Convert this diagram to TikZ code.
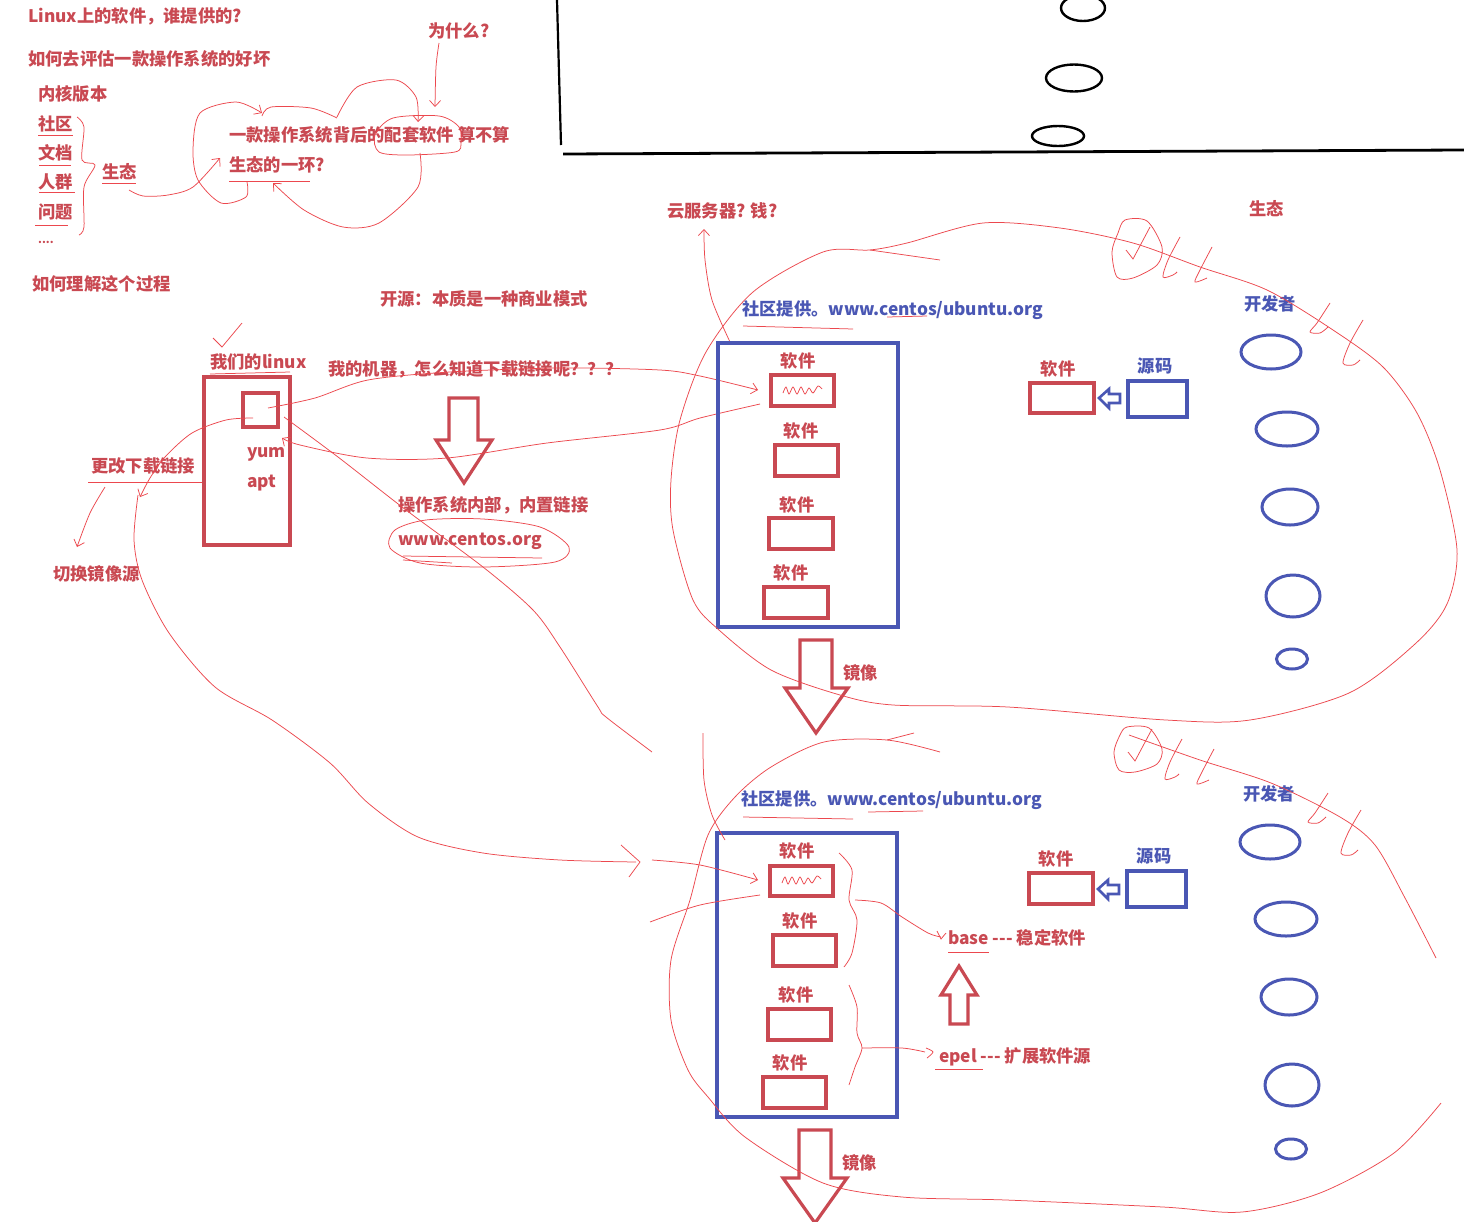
\documentclass[tikz,border=0pt]{standalone}
\usepackage{fontspec}
\setmainfont{Noto Sans CJK SC}[Ligatures=TeXOff]
\usetikzlibrary{arrows.meta,shapes.geometric}
\definecolor{rd}{RGB}{201,73,82}
\definecolor{bl}{RGB}{74,87,180}
\definecolor{ln}{RGB}{236,72,78}
\begin{document}
\begin{tikzpicture}[x=1pt,y=-1pt,
 txt/.style={font=\bfseries\fontsize{17.3}{20}\selectfont, text=rd, anchor=west, inner sep=0pt},
 btxt/.style={txt, text=bl},
 lbl/.style={font=\bfseries\fontsize{17.3}{20}\selectfont, text=rd, inner sep=0pt},
 rbox/.style={draw=rd, line width=3.4pt, inner sep=0pt},
 bbox/.style={draw=bl, line width=3.2pt, inner sep=0pt},
 dev/.style={draw=bl, line width=3pt, ellipse, inner sep=0pt},
 blk/.style={draw=black, line width=2.4pt, ellipse, inner sep=0pt},
 th/.style={draw=ln, line width=0.75pt},
 tip/.style={-{Straight Barb[length=6pt,width=11pt]}},
 hollow/.style={draw=rd, line width=3.2pt, line join=miter},
]
\useasboundingbox[fill=white] (0,0) rectangle (1464,1221);

% ---------- black top-right frame ----------
\coordinate (v1) at (557,0); \coordinate (v2) at (561,145);
\coordinate (h1) at (563,154); \coordinate (h2) at (1464,150);
\draw[black, line width=2.2pt] (v1) -- (v2);
\draw[black, line width=2.8pt] (h1) -- (h2);
\node[blk, minimum width=44pt, minimum height=26pt] (k1) at (1083,8) {};
\node[blk, minimum width=56pt, minimum height=27pt] (k2) at (1074,78) {};
\node[blk, minimum width=52pt, minimum height=20pt] (k3) at (1058,136) {};

% ---------- top-left texts ----------
\node[txt] (t1) at (28,16) {Linux上的软件，谁提供的?};
\node[txt] (t2) at (428,31) {为什么?};
\node[txt] (t3) at (28,59) {如何去评估一款操作系统的好坏};
\node[txt] (t4) at (38,94) {内核版本};
\node[txt] (t5) at (38,124) {社区};
\node[txt] (t6) at (38,153) {文档};
\node[txt] (t7) at (38,182) {人群};
\node[txt] (t8) at (38,212) {问题};
\node[txt, font=\bfseries\fontsize{11}{12}\selectfont] (t9) at (38,242) {....};
\node[txt] (eco) at (102,172) {生态};
\node[txt] (q1) at (229,135) {一款操作系统背后的配套软件 算不算};
\node[txt] (q2) at (229,165) {生态的一环?};
\node[txt] (t10) at (32,284) {如何理解这个过程};
\node[txt] (t11) at (380,299) {开源：本质是一种商业模式};

% underlines and brace
\draw[th] (38,135) -- (73,135);
\draw[th] (39,165) -- (71,165);
\draw[th] (39,192) -- (75,192);
\draw[th] (35,225) -- (68,225);
\draw[th] (102,183) -- (136,183);
\draw[th] (229,181) -- (310,181);
\draw[th] plot[smooth] coordinates {(77,117) (84,127) (82,160) (95,165) (84,187) (84,227) (79,235)};
\draw[th,tip] plot[smooth] coordinates {(129,190) (143,196) (168,195) (193,187) (220,158)};
% loops around the question
\draw[th,tip] plot[smooth] coordinates {(247,182) (246,197) (221,203) (198,180) (193,150) (200,113) (236,102) (262,113)};
\draw[th,tip] plot[smooth] coordinates {(337,117) (357,87) (396,80) (416,97) (418,122)};
\draw[th] plot[smooth] coordinates {(262,116) (271,107) (311,108) (337,118)};
\draw[th] plot[smooth cycle] coordinates {(375,135) (393,118) (439,116) (459,127) (461,143) (455,152) (407,155) (379,152)};
\draw[th,tip] plot[smooth] coordinates {(420,153) (418,187) (379,223) (343,227) (304,210) (273,183)};
\draw[th,tip] plot[smooth] coordinates {(439,43) (436,67) (435,107)};

% ---------- our linux ----------
\node[txt] (lx) at (210,362) {我们的linux};
\draw[th] (213,338) -- (222,347) -- (242,323);
\draw[th] (210,374) -- (290,372);
\node[rbox, minimum width=86pt, minimum height=168pt] (box) at (247,461) {};
\node[rbox, minimum width=35pt, minimum height=34pt] (sb) at (260.5,410) {};
\node[txt] (yum) at (247,454) {yum};
\node[txt] (apt) at (247,483) {apt};
\node[txt] (q3) at (328,369) {我的机器，怎么知道下载链接呢？？？};
\node[txt] (chg) at (91,466) {更改下载链接};
\node[txt] (mir) at (53,574) {切换镜像源};
\draw[th] (88,482) -- (box.west |- 0,482);
\draw[th,tip] plot[smooth] coordinates {(105,487) (90,513) (77,547)};
\draw[th,tip] plot[smooth] coordinates {(253,418) (226,420) (192,433) (165,457) (150,478) (140,497)};
\draw[th] plot[smooth] coordinates {(138,495) (134,540) (142,580) (169,633) (215,687) (272,720) (330,763) (368,803) (418,837) (483,853) (560,860) (636,862)};
\draw[th] (621,845) -- (640,862) -- (629,877);

% middle arrow and inner link
\draw[hollow] (449,398) -- (478,398) -- (478,440) -- (492,440) -- (464,483) -- (436,440) -- (449,440) -- cycle;
\node[txt] (inn) at (398,505) {操作系统内部，内置链接};
\node[txt] (www) at (398,541) {www.centos.org};
\draw[th] plot[smooth cycle] coordinates {(395,530) (426,520) (483,519) (540,527) (569,547) (555,562) (483,567) (420,563) (390,548)};
\draw[th] (403,556) -- (542,558);
\draw[th] (403,560) -- (452,563);

% links from the small box
\draw[th,tip] plot[smooth] coordinates {(268,408) (315,398) (368,380) (450,372) (560,368) (660,370) (700,376) (758,390)};
\draw[th,tip] plot[smooth] coordinates {(760,404) (700,418) (660,430) (547,443) (447,458) (367,458) (300,445) (282,438)};
\draw[th] plot[smooth] coordinates {(284,417) (338,457) (406,510) (483,567) (533,610) (560,647) (598,707) (606,717) (652,752)};

% ---------- upper repository ----------
\node[txt] (cloud) at (667,211) {云服务器? 钱?};
\draw[th,tip] plot[smooth] coordinates {(730,342) (712,300) (705,260) (704,229)};
\node[btxt] (comm1) at (742,310) {社区提供。www.centos/ubuntu.org};
\draw[th] (743,326) -- (853,329);
\draw[th] (887,317) -- (927,316);
\node[bbox, minimum width=180pt, minimum height=284pt] (rep1) at (808,485) {};
\node[rbox, minimum width=63pt, minimum height=31pt] (a1) at (802.5,390.5) {};
\node[rbox, minimum width=63pt, minimum height=31pt] (a2) at (806.5,460.5) {};
\node[rbox, minimum width=64pt, minimum height=31pt] (a3) at (801,533.5) {};
\node[rbox, minimum width=64pt, minimum height=31pt] (a4) at (796,602.5) {};
\node[lbl] at (798,361) {软件};
\node[lbl] at (801,431) {软件};
\node[lbl] at (797,505) {软件};
\node[lbl] at (791,573) {软件};
\draw[th] plot[smooth] coordinates {(783,393) (786,387) (789,394) (793,387) (797,394) (801,387) (805,394) (809,388) (813,393) (818,386) (822,389)};

\node[rbox, minimum width=64pt, minimum height=30pt] (sw1) at (1062,398) {};
\node[bbox, minimum width=59pt, minimum height=36pt] (src1) at (1157.5,399) {};
\node[lbl] at (1058,369) {软件};
\node[lbl, text=bl] at (1155,366) {源码};
\draw[draw=bl, line width=2.6pt, line join=miter] (1099,398) -- (1109,389) -- (1109,394) -- (1120,394) -- (1120,403) -- (1109,403) -- (1109,408) -- cycle;

\node[txt] (eco2) at (1249,209) {生态};
\node[btxt] (dev1) at (1244,304) {开发者};
\node[dev, minimum width=60pt, minimum height=34pt] (e1) at (1271,352) {};
\node[dev, minimum width=62pt, minimum height=34pt] (e2) at (1287,429) {};
\node[dev, minimum width=56pt, minimum height=36pt] (e3) at (1290,507) {};
\node[dev, minimum width=54pt, minimum height=42pt] (e4) at (1293,596) {};
\node[dev, minimum width=31pt, minimum height=20pt] (e5) at (1292,659) {};

\draw[hollow] (800,640) -- (832,640) -- (832,688) -- (848,688) -- (816,733) -- (785,688) -- (800,688) -- cycle;
\node[txt] (mi1) at (843,673) {镜像};

% ecosystem loop (upper)
\draw[th] plot[smooth cycle] coordinates {(693,600) (673,530) (671,480) (680,420) (706,352) (753,292) (823,252) (870,250) (907,243) (983,223) (1060,228) (1133,243) (1200,267) (1267,290) (1333,330) (1383,367) (1417,413) (1440,470) (1457,550) (1447,604) (1415,644) (1349,693) (1250,720) (1166,720) (1008,707) (893,705) (840,695) (771,670) (719,630)};
\draw[th] (870,250) -- (940,260);

% check marks (upper)
\begin{scope}
\draw[th] plot[smooth cycle] coordinates {(1125,220) (1147,221) (1162,247) (1157,265) (1133,278) (1117,277) (1112,252) (1118,233)};
\draw[th] (1126,250) -- (1133,259) -- (1150,227);
\draw[th] plot[smooth] coordinates {(1180,237) (1168,260) (1163,277) (1173,275) (1177,272)};
\draw[th] plot[smooth] coordinates {(1212,247) (1200,270) (1195,282) (1207,278)};
\draw[th] plot[smooth] coordinates {(1330,303) (1317,323) (1310,332) (1320,333) (1328,327)};
\draw[th] plot[smooth] coordinates {(1363,320) (1350,343) (1343,363) (1353,365) (1360,360)};
\end{scope}

% ---------- lower repository ----------
\node[btxt] (comm2) at (741,800) {社区提供。www.centos/ubuntu.org};
\draw[th] (743,817) -- (853,819);
\draw[th] (868,812) -- (923,811);
\node[bbox, minimum width=180pt, minimum height=284pt] (rep2) at (807,975) {};
\node[rbox, minimum width=63pt, minimum height=30pt] (b1) at (801.5,881) {};
\node[rbox, minimum width=63pt, minimum height=31pt] (b2) at (804.5,950.5) {};
\node[rbox, minimum width=63pt, minimum height=31pt] (b3) at (799.5,1024.5) {};
\node[rbox, minimum width=63pt, minimum height=31pt] (b4) at (794.5,1092.5) {};
\node[lbl] at (797,851) {软件};
\node[lbl] at (800,921) {软件};
\node[lbl] at (796,995) {软件};
\node[lbl] at (790,1063) {软件};
\draw[th] plot[smooth] coordinates {(782,883) (785,877) (788,884) (792,877) (796,884) (800,877) (804,884) (808,878) (812,883) (817,876) (821,879)};

\node[rbox, minimum width=64pt, minimum height=31pt] (sw2) at (1061,888.5) {};
\node[bbox, minimum width=59pt, minimum height=36pt] (src2) at (1156.5,889) {};
\node[lbl] at (1056,859) {软件};
\node[lbl, text=bl] at (1154,856) {源码};
\draw[draw=bl, line width=2.6pt, line join=miter] (1098,889) -- (1108,880) -- (1108,885) -- (1119,885) -- (1119,894) -- (1108,894) -- (1108,899) -- cycle;

\node[btxt] (dev2) at (1243,794) {开发者};
\node[dev, minimum width=60pt, minimum height=34pt] (f1) at (1270,842) {};
\node[dev, minimum width=62pt, minimum height=34pt] (f2) at (1286,919) {};
\node[dev, minimum width=56pt, minimum height=36pt] (f3) at (1289,997) {};
\node[dev, minimum width=54pt, minimum height=42pt] (f4) at (1292,1085) {};
\node[dev, minimum width=31pt, minimum height=20pt] (f5) at (1291,1149) {};

\draw[hollow] (799,1130) -- (831,1130) -- (831,1178) -- (847,1178) -- (815,1223) -- (783,1178) -- (799,1178) -- cycle;
\node[txt] (mi2) at (842,1163) {镜像};

% base / epel
\node[txt] (base) at (948,938) {base --- 稳定软件};
\node[txt] (epel) at (939,1057) {epel --- 扩展软件源};
\draw[th] (948,952) -- (989,952);
\draw[th] (935,1069) -- (983,1069);
\draw[hollow] (959,966) -- (977,995) -- (968,995) -- (968,1024) -- (950,1024) -- (950,995) -- (941,995) -- cycle;
\draw[th] plot[smooth] coordinates {(839,853) (852,870) (849,900) (857,920) (852,953) (844,967)};
\draw[th] plot[smooth] coordinates {(855,900) (881,903) (902,917) (928,933) (941,937)};
\draw[th] (937,931) -- (941,939) -- (946,933);
\draw[th] plot[smooth] coordinates {(849,985) (857,1007) (857,1033) (862,1048) (855,1067) (849,1085)};
\draw[th] plot[smooth] coordinates {(862,1048) (902,1048) (925,1052)};
\draw[th] plot[smooth] coordinates {(926,1048) (933,1052) (927,1058)};

% links into the lower repository
\draw[th,tip] plot[smooth] coordinates {(652,860) (700,865) (758,880)};
\draw[th] plot[smooth] coordinates {(650,922) (700,905) (760,895)};

% ecosystem loop (lower)
\draw[th] plot[smooth] coordinates {(940,752) (887,740) (824,742) (771,767) (735,797) (708,835) (690,900) (671,960) (671,1020) (688,1070) (708,1097) (745,1137) (823,1183) (902,1197) (1006,1200) (1163,1207) (1242,1212) (1320,1193) (1394,1153) (1441,1103)};
\draw[th] (887,740) -- (914,733);
\draw[th] plot[smooth] coordinates {(1129,735) (1200,760) (1271,783) (1340,817) (1375,845) (1405,898) (1436,958)};
\draw[th] plot[smooth] coordinates {(703,733) (704,780) (712,815) (725,840)};

% check marks (lower)
\begin{scope}[yshift=-502pt, xshift=2pt]
\draw[th] plot[smooth cycle] coordinates {(1125,225) (1147,226) (1160,247) (1155,262) (1133,270) (1117,268) (1112,250) (1118,233)};
\draw[th] (1126,250) -- (1133,259) -- (1150,227);
\draw[th] plot[smooth] coordinates {(1180,237) (1168,260) (1163,277) (1173,275) (1177,272)};
\draw[th] plot[smooth] coordinates {(1212,247) (1200,270) (1195,282) (1207,278)};
\end{scope}
\begin{scope}[yshift=-490pt, xshift=-2pt]
\draw[th] plot[smooth] coordinates {(1330,303) (1317,323) (1310,332) (1320,333) (1328,327)};
\draw[th] plot[smooth] coordinates {(1363,320) (1350,343) (1343,363) (1353,365) (1360,360)};
\end{scope}
\end{tikzpicture}
\end{document}
